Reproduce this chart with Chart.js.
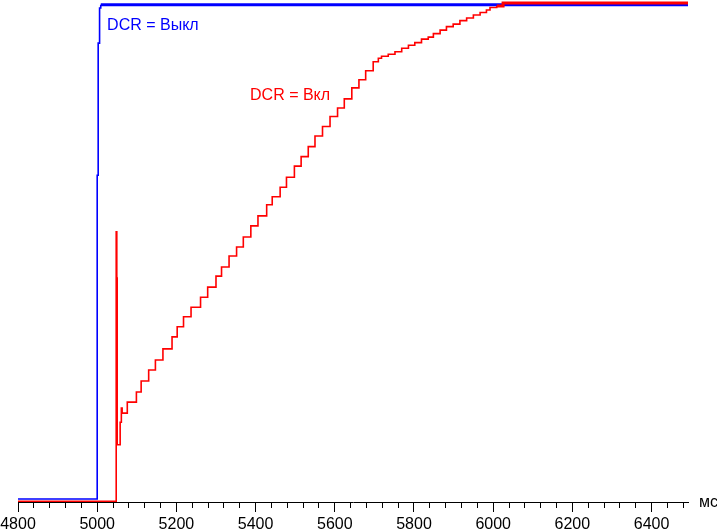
<!DOCTYPE html>
<html>
<head>
<meta charset="utf-8">
<script src="https://cdn.jsdelivr.net/npm/chart.js@4/dist/chart.umd.min.js"></script>
<style>
  body { margin: 0; background: #fff; }
  #wrap { width: 717px; height: 530px; position: relative; }
</style>
</head>
<body>
<div id="wrap"><canvas id="chart"></canvas></div>
<script>
// axe du temps, en ms
const xMin = 4800;
const xMax = 6492;
const majorStep = 200;
const minorStep = 40;
const unitLabel = 'мс';
const plateauLevel = 98.5; // au-dessus : trait plus épais (bruit du palier)

// DCR = Вкл (rouge) : marches d'escalier
const redTimes = [4800, 5048, 5049.5, 5050.5, 5058, 5061, 5063, 5076, 5099, 5111, 5130, 5147, 5166, 5189, 5202, 5218, 5237,
  5261, 5279, 5300, 5314, 5333, 5352, 5369, 5388, 5406, 5428, 5442, 5462, 5478, 5498, 5515, 5533, 5550, 5569, 5588, 5607,
  5624, 5643, 5661, 5678, 5697, 5710, 5718, 5735, 5752, 5769, 5786, 5802, 5819, 5836, 5849, 5866, 5882, 5899, 5916, 5933,
  5950, 5967, 5983, 5992, 6009, 6025, 6492];
const redValues = [0.15, 53.8, 44.6, 11.4, 15.9, 18.7, 17.7, 19.9, 21.9, 24.1, 26.3, 28.3, 30.5, 32.9, 34.9, 36.9, 38.8,
  40.8, 42.8, 45.0, 46.8, 49.0, 50.8, 52.8, 55.0, 57.0, 59.2, 60.8, 62.7, 64.7, 66.9, 68.8, 70.8, 72.9, 74.8, 76.8, 78.5,
  80.3, 82.5, 84.1, 85.9, 87.7, 88.4, 88.8, 89.2, 89.7, 90.4, 91.0, 91.5, 92.2, 92.6, 93.3, 94.0, 94.7, 95.2, 95.9, 96.4,
  97.0, 97.5, 98.0, 98.5, 98.8, 99.4, 99.4];

// DCR = Выкл (bleu)
const blueTimes = [4800, 5000, 5002.5, 5006, 5009, 6492];
const blueValues = [0.6, 65.1, 91.4, 98.4, 99.06, 99.06];

// étiquettes dans le graphique
const redLabel = { text: 'DCR = Вкл', x: 5386, y: 80.9 };
const blueLabel = { text: 'DCR = Выкл', x: 5025, y: 95.0 };

function toPoints(times, values) {
    return times.map((t, i) => ({ x: t, y: values[i] }));
}

// palier bruité : trait plus large
function segWidth(c) {
    return (c.p0.parsed.y > plateauLevel && c.p1.parsed.y > plateauLevel) ? 3 : undefined;
}

const labelsPlugin = {
    id: 'labels',
    afterDraw(chart) {
        const { ctx, scales: { x, y } } = chart;
        ctx.save();
        ctx.font = '16px "Liberation Sans", Arial, sans-serif';
        ctx.textBaseline = 'middle';
        ctx.textAlign = 'left';
        ctx.fillStyle = '#0000ff';
        ctx.fillText(blueLabel.text, x.getPixelForValue(blueLabel.x), y.getPixelForValue(blueLabel.y));
        ctx.fillStyle = '#ff0000';
        ctx.fillText(redLabel.text, x.getPixelForValue(redLabel.x), y.getPixelForValue(redLabel.y));
        // unité au bout de l'axe
        ctx.fillStyle = '#000';
        ctx.textBaseline = 'alphabetic';
        ctx.fillText(unitLabel, x.right + 11, x.top + 5);
        ctx.restore();
    }
};

const ctx = document.getElementById('chart').getContext('2d');
const chart = new Chart(ctx, {
    type: 'line',
    data: {
        datasets: [{
            label: redLabel.text,
            data: toPoints(redTimes, redValues),
            borderColor: '#ff0000',
            borderWidth: 1.6,
            stepped: true,
            pointRadius: 0,
            fill: false,
            segment: { borderWidth: segWidth }
        }, {
            label: blueLabel.text,
            data: toPoints(blueTimes, blueValues),
            borderColor: '#0000ff',
            borderWidth: 1.6,
            stepped: true,
            pointRadius: 0,
            fill: false,
            segment: { borderWidth: segWidth }
        }]
    },
    options: {
        responsive: true,
        maintainAspectRatio: false,
        animation: false,
        layout: { padding: { left: 18, right: 29, top: 0, bottom: 0 } },
        plugins: {
            legend: { display: false },
            tooltip: { enabled: false }
        },
        scales: {
            x: {
                type: 'linear',
                min: xMin,
                max: xMax,
                border: { display: true, color: '#000', width: 1 },
                grid: {
                    drawOnChartArea: false,
                    drawTicks: true,
                    tickLength: 10,
                    tickColor: '#000',
                    tickWidth: 1,
                    // petites graduations : seulement 5 px
                    tickBorderDash: (c) => (c.tick && c.tick.value % majorStep === 0) ? [] : [5, 30]
                },
                ticks: {
                    stepSize: minorStep,
                    autoSkip: false,
                    includeBounds: false,
                    maxRotation: 0,
                    padding: 3,
                    color: '#000',
                    font: { family: '"Liberation Sans", Arial, sans-serif', size: 16 },
                    callback: (v) => v % majorStep === 0 ? String(v) : ''
                },
                afterFit: (scale) => {
                    scale.height = 28;
                    scale.paddingLeft = 0;
                    scale.paddingRight = 0;
                }
            },
            y: {
                display: false,
                min: 0,
                max: 100
            }
        }
    },
    plugins: [labelsPlugin]
});
</script>
</body>
</html>
